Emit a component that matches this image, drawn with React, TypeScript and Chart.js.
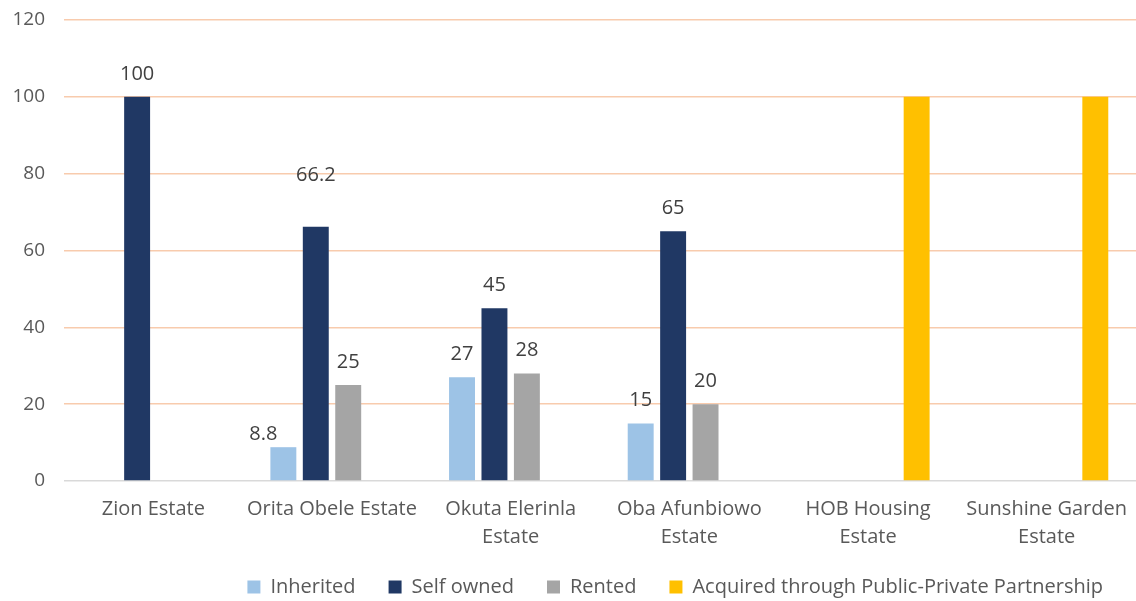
import React, { useEffect, useRef } from "react";
import { Chart, registerables } from "chart.js";

Chart.register(...registerables);

const categories: (string | string[])[] = [
  "Zion Estate",
  "Orita Obele Estate",
  ["Okuta Elerinla", "Estate"],
  ["Oba Afunbiowo", "Estate"],
  ["HOB Housing", "Estate"],
  ["Sunshine Garden", "Estate"],
];
const inherited = [null, 8.8, 27, 15, null, null];
const selfOwned = [100, 66.2, 45, 65, null, null];
const rented = [null, 25, 28, 20, null, null];
const ppp = [null, null, null, null, 100, 100];
const yTicks = [0, 20, 40, 60, 80, 100, 120];

const FONT = "'Open Sans', sans-serif";

const labelPlugin = {
  id: "valueLabels",
  afterLayout(chart: any) {
    // let the two-line category labels extend below the axis box
    const x = chart.scales.x;
    if (x) x.bottom = chart.height;
  },
  afterDatasetsDraw(chart: any, _args: any, opts: any) {
    const ctx = chart.ctx;
    ctx.save();
    ctx.font = `${opts.size}px ${FONT}`;
    ctx.fillStyle = opts.color;
    ctx.textAlign = "center";
    ctx.textBaseline = "middle";
    (opts.datasets as number[]).forEach((di) => {
      const meta = chart.getDatasetMeta(di);
      const data = chart.data.datasets[di].data;
      meta.data.forEach((el: any, i: number) => {
        const v = data[i];
        if (v === null || v === undefined) return;
        const adj = (opts.adjust || []).find((a: any) => a.d === di && a.i === i) || { dx: 0, dy: 0 };
        ctx.fillText(String(v), el.x + adj.dx, el.y + opts.offset + adj.dy);
      });
    });
    ctx.restore();
  },
};

export default function App() {
  const ref = useRef<HTMLCanvasElement | null>(null);
  useEffect(() => {
    document.body.style.margin = "0";
    const chart = new Chart(ref.current as HTMLCanvasElement, {
      type: "bar",
      data: {
        labels: categories,
        datasets: [
          { label: "Inherited", data: inherited, backgroundColor: "#9DC3E6" },
          { label: "Self owned", data: selfOwned, backgroundColor: "#203864" },
          { label: "Rented", data: rented, backgroundColor: "#A5A5A5" },
          { label: "Acquired through Public-Private Partnership", data: ppp, backgroundColor: "#FFC000" },
        ] as any,
      },
      options: {
        responsive: false,
        animation: false,
        datasets: { bar: { categoryPercentage: 0.726, barPercentage: 0.8 } } as any,
        layout: { padding: { top: 20, right: 0, left: 0, bottom: -6 } },
        scales: {
          x: {
            grid: { display: false },
            border: { display: false },
            afterFit: (s: any) => {
              s.height = 63;
            },
            ticks: {
              color: "#595959",
              font: { family: FONT, size: 20, lineHeight: 1.42 },
              padding: 6,
              maxRotation: 0,
              autoSkip: false,
            },
          },
          y: {
            min: 0,
            max: 120,
            afterBuildTicks: (s: any) => {
              s.ticks = yTicks.map((v) => ({ value: v }));
            },
            afterFit: (s: any) => {
              s.width = 64;
              s.paddingTop = 0;
              s.paddingBottom = 0;
            },
            grid: {
              color: (c: any) => (c.tick && c.tick.value === 0 ? "#D9D9D9" : "#F8CBAD"),
              lineWidth: 1.5,
              drawTicks: false,
            },
            border: { display: false },
            ticks: {
              color: "#595959",
              font: { family: FONT, size: 19 },
              padding: 19,
            },
          },
        },
        plugins: {
          legend: {
            position: "bottom",
            align: "end",
            labels: {
              boxWidth: 13,
              boxHeight: 13,
              padding: 33,
              color: "#595959",
              font: { family: FONT, size: 20 },
            },
          },
          tooltip: { enabled: false },
          valueLabels: {
            datasets: [0, 1, 2],
            offset: -23,
            size: 20,
            color: "#404040",
            adjust: [
              { d: 1, i: 1, dx: 0, dy: -28 },
              { d: 0, i: 1, dx: -20, dy: 10 },
            ],
          },
        } as any,
      },
      plugins: [labelPlugin],
    });
    return () => chart.destroy();
  }, []);
  return (
    <div style={{ width: 1136, height: 601 }}>
      <canvas ref={ref} width={1136} height={601} style={{ display: "block" }} />
    </div>
  );
}
